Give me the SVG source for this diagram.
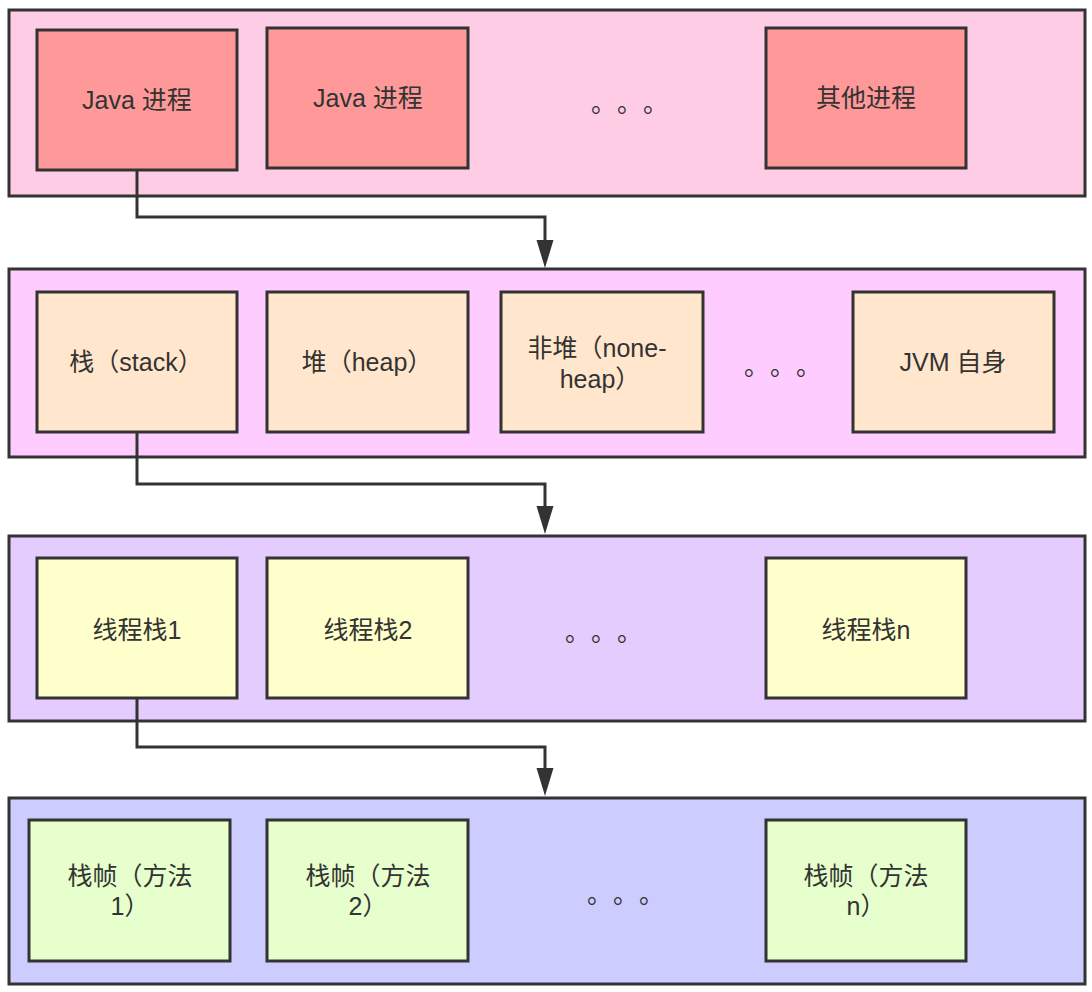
<svg xmlns="http://www.w3.org/2000/svg" width="1092" height="992" viewBox="0 0 1092 992">
<style>
.layer{stroke:#333;stroke-width:3}
.node{stroke:#333;stroke-width:3}
.l1{fill:#FFCCE6}.l2{fill:#FFCCFF}.l3{fill:#E5CCFF}.l4{fill:#CCCCFF}
.n1{fill:#FF9999}.n2{fill:#FFE6CC}.n3{fill:#FFFFCC}.n4{fill:#E6FFCC}
text{font-family:"Liberation Sans","Noto Sans CJK SC",sans-serif;font-size:25px;fill:#333;text-anchor:middle;dominant-baseline:central}
.dots{font-family:"Noto Sans CJK SC",sans-serif;font-size:25px;text-anchor:start;letter-spacing:13.5px;dominant-baseline:alphabetic}
.conn{fill:none;stroke:#333;stroke-width:3}
</style>
<g id="layer1">
<rect class="layer l1" x="9" y="10" width="1076" height="186"/>
</g>
<g id="layer2">
<rect class="layer l2" x="9" y="269" width="1076" height="188"/>
</g>
<g id="layer3">
<rect class="layer l3" x="9" y="536" width="1076" height="185"/>
</g>
<g id="layer4">
<rect class="layer l4" x="9" y="798" width="1076" height="186"/>
</g>
<g id="connectors">
<path class="conn" d="M137,170 V217 H545 V242"/>
<path d="M536.5,240 L553.5,240 L545,268 Z" fill="#333"/>
<path class="conn" d="M137,433 V484 H545 V508"/>
<path d="M536.5,506 L553.5,506 L545,534 Z" fill="#333"/>
<path class="conn" d="M137,699 V747 H545 V770"/>
<path d="M536.5,768 L553.5,768 L545,796 Z" fill="#333"/>
</g>
<g id="java1"><rect class="node n1" x="37" y="30" width="200" height="140"/><text x="137" y="100">Java 进程</text></g>
<g id="java2"><rect class="node n1" x="267" y="28" width="201" height="140"/><text x="368" y="98">Java 进程</text></g>
<g id="dots1"><text class="dots" x="591" y="112">。。。</text></g>
<g id="other"><rect class="node n1" x="766" y="28" width="200" height="140"/><text x="866" y="98">其他进程</text></g>

<g id="stack"><rect class="node n2" x="37" y="292" width="200" height="140"/><text x="136" y="362">栈（stack）</text></g>
<g id="heap"><rect class="node n2" x="267" y="292" width="201" height="140"/><text x="367" y="362">堆（heap）</text></g>
<g id="nonheap"><rect class="node n2" x="501" y="292" width="202" height="140"/><text x="597" y="348">非堆（none-</text><text x="600" y="379">heap）</text></g>
<g id="dots2"><text class="dots" x="744" y="375">。。。</text></g>
<g id="jvm"><rect class="node n2" x="853" y="292" width="201" height="140"/><text x="953" y="362">JVM 自身</text></g>

<g id="ts1"><rect class="node n3" x="37" y="558" width="200" height="140"/><text x="137" y="630">线程栈1</text></g>
<g id="ts2"><rect class="node n3" x="267" y="558" width="201" height="140"/><text x="368" y="630">线程栈2</text></g>
<g id="dots3"><text class="dots" x="565" y="641">。。。</text></g>
<g id="tsn"><rect class="node n3" x="766" y="558" width="200" height="140"/><text x="866" y="630">线程栈n</text></g>

<g id="f1"><rect class="node n4" x="29" y="820" width="201" height="141"/><text x="130" y="876">栈帧（方法</text><text x="130" y="906">1）</text></g>
<g id="f2"><rect class="node n4" x="267" y="820" width="201" height="141"/><text x="368" y="876">栈帧（方法</text><text x="368" y="906">2）</text></g>
<g id="dots4"><text class="dots" x="587" y="903">。。。</text></g>
<g id="fn"><rect class="node n4" x="766" y="820" width="200" height="141"/><text x="866" y="876">栈帧（方法</text><text x="866" y="906">n）</text></g>
</svg>
